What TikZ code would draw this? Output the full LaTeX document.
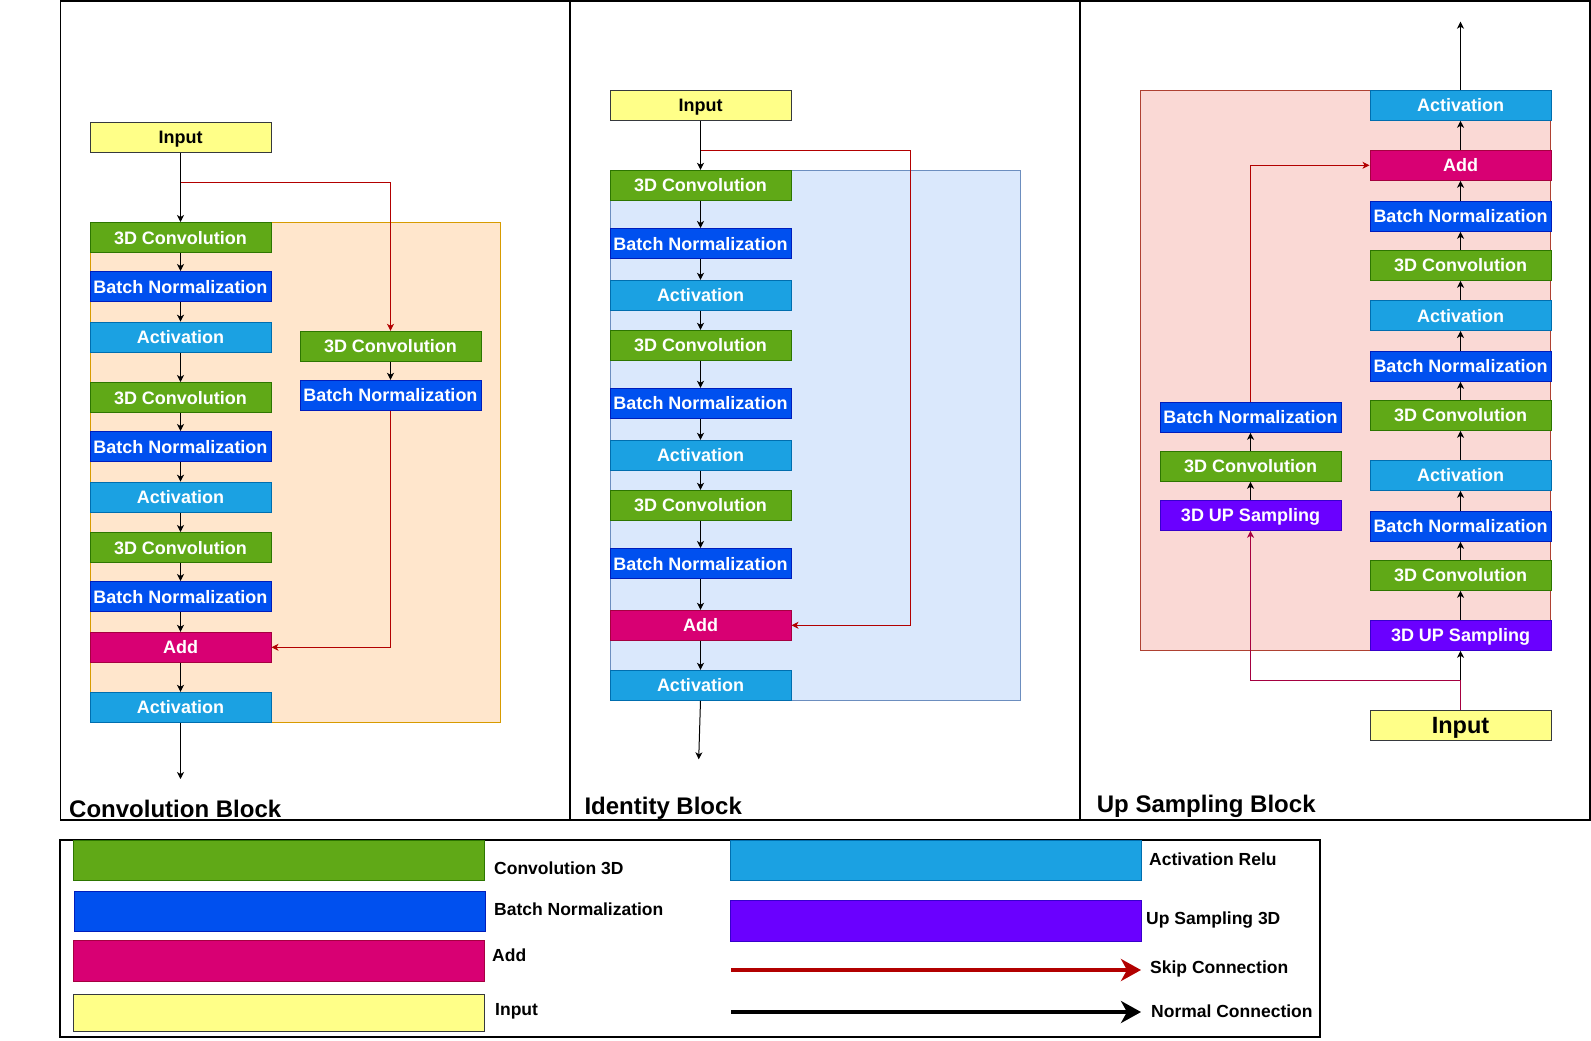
\documentclass[tikz,border=0pt]{standalone}
\usepackage{fontspec}
\setmainfont{Liberation Sans}
\usetikzlibrary{arrows.meta}
\definecolor{convF}{HTML}{60A917}\definecolor{convD}{HTML}{2D7600}
\definecolor{bnF}{HTML}{0050EF}\definecolor{bnD}{HTML}{001DBC}
\definecolor{actF}{HTML}{1BA1E2}\definecolor{actD}{HTML}{006EAF}
\definecolor{addF}{HTML}{D80073}\definecolor{addD}{HTML}{A50040}
\definecolor{upF}{HTML}{6A00FF}\definecolor{upD}{HTML}{3700CC}
\definecolor{inF}{HTML}{FFFF88}\definecolor{inD}{HTML}{36393D}
\definecolor{orF}{HTML}{FFE6CC}\definecolor{orD}{HTML}{D79B00}
\definecolor{blF}{HTML}{DAE8FC}\definecolor{blD}{HTML}{6C8EBF}
\definecolor{pkF}{HTML}{FAD9D5}\definecolor{pkD}{HTML}{AE4132}
\definecolor{skipC}{HTML}{B20000}
\definecolor{skipM}{HTML}{A50040}
\begin{document}
\begin{tikzpicture}[x=1pt,y=-1pt,
  blk/.style={draw, line width=1pt, minimum width=181pt, minimum height=30pt, inner sep=0pt, text height=13pt, text depth=0pt, text=white, font=\fontsize{18}{20}\selectfont\bfseries},
  conv/.style={blk, fill=convF, draw=convD},
  bn/.style={blk, fill=bnF, draw=bnD},
  act/.style={blk, fill=actF, draw=actD},
  addn/.style={blk, fill=addF, draw=addD},
  ups/.style={blk, fill=upF, draw=upD},
  inp/.style={blk, fill=inF, draw=inD, text=black},
  arr/.style={-{Stealth[length=7pt,width=7pt,inset=2pt]}, line width=1pt, black},
  skiparr/.style={arr, draw=skipC},
  skiparrm/.style={arr, draw=skipM},
  panel/.style={draw=black, line width=1.3pt},
  ttl/.style={anchor=base west, inner sep=0pt, font=\fontsize{24}{26}\selectfont\bfseries},
  sw/.style={draw, line width=1pt, inner sep=0pt, minimum width=411pt, minimum height=40pt},
  lgt/.style={anchor=west, inner sep=0pt, font=\fontsize{17.5}{19}\selectfont\bfseries},
]
\useasboundingbox (0,0) rectangle (1591,1041);
% panels
\draw[panel] (60.7,1) rectangle (570,820);
\draw[panel] (570,1) rectangle (1080,820);
\draw[panel] (1080,1) rectangle (1590,820);
% containers
\filldraw[fill=orF, draw=orD, line width=1pt] (90,222.3) rectangle (500.7,722.3);
\filldraw[fill=blF, draw=blD, line width=1pt] (610,170.3) rectangle (1020.7,700.3);
\filldraw[fill=pkF, draw=pkD, line width=1pt] (1140.3,90.3) rectangle (1550.7,650.3);

% ===== Convolution block =====
\node[inp] (in1) at (180.5,137.3) {Input};
\node[conv] (c11) at (180.5,237.5) {3D Convolution};
\node[bn] (b11) at (180.5,286.5) {Batch Normalization};
\node[act] (a11) at (180.5,337.2) {Activation};
\node[conv] (c12) at (180.5,397.5) {3D Convolution};
\node[bn] (b12) at (180.5,446.5) {Batch Normalization};
\node[act] (a12) at (180.5,497.2) {Activation};
\node[conv] (c13) at (180.5,547.5) {3D Convolution};
\node[bn] (b13) at (180.5,596.5) {Batch Normalization};
\node[addn] (add1) at (180.5,647.3) {Add};
\node[act] (a13) at (180.5,707.3) {Activation};
\node[conv] (rc1) at (390.5,346.3) {3D Convolution};
\node[bn] (rb1) at (390.5,395.3) {Batch Normalization};
\coordinate (j1) at (180.5,182);
\coordinate (o1) at (180.5,779);
\draw[arr] (in1) -- (c11);
\draw[arr] (c11) -- (b11);
\draw[arr] (b11) -- (a11);
\draw[arr] (a11) -- (c12);
\draw[arr] (c12) -- (b12);
\draw[arr] (b12) -- (a12);
\draw[arr] (a12) -- (c13);
\draw[arr] (c13) -- (b13);
\draw[arr] (b13) -- (add1);
\draw[arr] (add1) -- (a13);
\draw[arr] (a13) -- (o1);
\draw[arr] (rc1) -- (rb1);
\draw[skiparr] (j1) -| (rc1.north);
\draw[skiparr] (rb1.south) |- (add1.east);
\node[ttl] (t1) at (69,817) {Convolution Block};

% ===== Identity block =====
\node[inp] (in2) at (700.5,105.3) {Input};
\node[conv] (c21) at (700.5,185.3) {3D Convolution};
\node[bn] (b21) at (700.5,243.5) {Batch Normalization};
\node[act] (a21) at (700.5,295.3) {Activation};
\node[conv] (c22) at (700.5,345.3) {3D Convolution};
\node[bn] (b22) at (700.5,403.3) {Batch Normalization};
\node[act] (a22) at (700.5,455.3) {Activation};
\node[conv] (c23) at (700.5,505.3) {3D Convolution};
\node[bn] (b23) at (700.5,563.5) {Batch Normalization};
\node[addn] (add2) at (700.5,625.3) {Add};
\node[act] (a23) at (700.5,685.3) {Activation};
\coordinate (j2) at (700.5,150.3);
\coordinate (k2) at (910.3,150.3);
\coordinate (o2) at (698.7,759.3);
\draw[arr] (in2) -- (c21);
\draw[arr] (c21) -- (b21);
\draw[arr] (b21) -- (a21);
\draw[arr] (a21) -- (c22);
\draw[arr] (c22) -- (b22);
\draw[arr] (b22) -- (a22);
\draw[arr] (a22) -- (c23);
\draw[arr] (c23) -- (b23);
\draw[arr] (b23) -- (add2);
\draw[arr] (add2) -- (a23);
\draw[arr] (a23.south) -- (o2);
\draw[skiparr] (j2) -- (k2) |- (add2.east);
\node[ttl] (t2) at (584.3,814) {Identity Block};

% ===== Up sampling block =====
\node[act] (u1) at (1460.5,105.3) {Activation};
\node[addn] (uadd) at (1460.5,165.3) {Add};
\node[bn] (u2) at (1460.5,216.3) {Batch Normalization};
\node[conv] (u3) at (1460.5,265.3) {3D Convolution};
\node[act] (u4) at (1460.5,315.5) {Activation};
\node[bn] (u5) at (1460.5,366.3) {Batch Normalization};
\node[conv] (u6) at (1460.5,415.3) {3D Convolution};
\node[act] (u7) at (1460.5,475.3) {Activation};
\node[bn] (u8) at (1460.5,526.3) {Batch Normalization};
\node[conv] (u9) at (1460.5,575.3) {3D Convolution};
\node[ups] (uup) at (1460.5,635.3) {3D UP Sampling};
\node[inp, text height=17pt, font=\fontsize{23.5}{26}\selectfont\bfseries] (in3) at (1460.5,725.3) {Input};
\node[bn] (lb) at (1250.5,417.3) {Batch Normalization};
\node[conv] (lc) at (1250.5,466.3) {3D Convolution};
\node[ups] (lup) at (1250.5,515.3) {3D UP Sampling};
\coordinate (j3) at (1460.5,680);
\coordinate (o3) at (1460.5,21.7);
\draw[arr] (u1) -- (o3);
\draw[arr] (uadd) -- (u1);
\draw[arr] (u2) -- (uadd);
\draw[arr] (u3) -- (u2);
\draw[arr] (u4) -- (u3);
\draw[arr] (u5) -- (u4);
\draw[arr] (u6) -- (u5);
\draw[arr] (u7) -- (u6);
\draw[arr] (u8) -- (u7);
\draw[arr] (u9) -- (u8);
\draw[arr] (uup) -- (u9);
\draw[arr] (lup) -- (lc);
\draw[arr] (lc) -- (lb);
\draw[skiparrm] (in3.north) -- (j3) -| (lup.south);
\draw[arr] (j3) -- (uup.south);
\draw[skiparr] (lb.north) |- (uadd.west);
\node[ttl] (t3) at (1096.7,812.3) {Up Sampling Block};

% ===== Legend =====
\draw[line width=1.3pt] (60,840) rectangle (1320,1037);
\node[sw, fill=convF, draw=convD] (lg1) at (278.5,860) {};
\node[sw, fill=bnF, draw=bnD] (lg2) at (279.5,911) {};
\node[sw, fill=addF, draw=addD, minimum height=41pt] (lg3) at (278.5,960.5) {};
\node[sw, fill=inF, draw=inD, minimum height=37pt] (lg4) at (278.5,1012.5) {};
\node[sw, fill=actF, draw=actD] (lg5) at (936.3,860) {};
\node[sw, fill=upF, draw=upD, minimum height=41pt] (lg6) at (935.5,920.5) {};
\coordinate (ls1) at (731,970);
\coordinate (le1) at (1141,970);
\coordinate (ls2) at (731,1012);
\coordinate (le2) at (1141,1012);
\draw[line width=4pt, skipC, -{Stealth[length=20pt,width=22pt,inset=6pt]}] (ls1) -- (le1);
\draw[line width=4pt, black, -{Stealth[length=20pt,width=22pt,inset=6pt]}] (ls2) -- (le2);
\node[lgt] (lt1) at (494,868) {Convolution 3D};
\node[lgt] (lt2) at (494,909) {Batch Normalization};
\node[lgt] (lt3) at (492,955) {Add};
\node[lgt] (lt4) at (495,1011) {Input};
\node[lgt] (lt5) at (1149,859) {Activation Relu};
\node[lgt] (lt6) at (1146,920) {Up Sampling 3D};
\node[lgt] (lt7) at (1150,969) {Skip Connection};
\node[lgt] (lt8) at (1151,1011) {Normal Connection};
\end{tikzpicture}
\end{document}
